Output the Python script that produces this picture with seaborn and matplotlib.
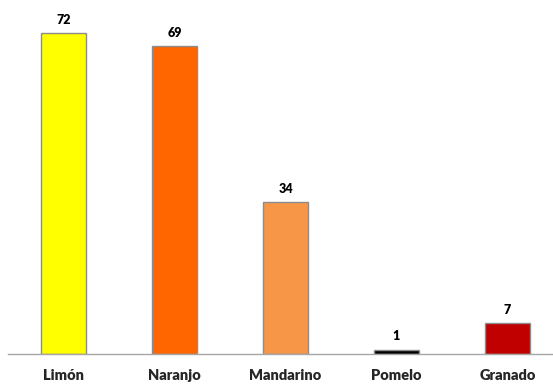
import matplotlib
matplotlib.use("Agg")
import matplotlib.pyplot as plt
import seaborn as sns
import pandas as pd

frutas = ["Limón", "Naranjo", "Mandarino", "Pomelo", "Granado"]
cantidad = [72, 69, 34, 1, 7]
colores = ["#FFFF00", "#FF6600", "#F79646", "#000000", "#C00000"]

sns.set_style("white")
plt.rcParams["font.family"] = ["Lato", "DejaVu Sans"]

df = pd.DataFrame({"fruta": frutas, "cantidad": cantidad})

fig = plt.figure(figsize=(5.53, 3.85), dpi=100)
ax = fig.add_axes([8 / 553, 31 / 385, 545 / 553, 354 / 385])

sns.barplot(data=df, x="fruta", y="cantidad", hue="fruta", palette=colores,
            saturation=1, width=0.41, edgecolor="#8C8C8C", linewidth=1,
            legend=False, ax=ax)

for i, v in enumerate(cantidad):
    ax.text(i, v + 1.6, str(v), ha="center", va="bottom",
            fontsize=9, fontweight="heavy", color="black")

ax.set_xlim(-0.5, 4.41)
ax.set_ylim(0, 72 * 354 / 321)
ax.set_xlabel("")
ax.set_ylabel("")
ax.set_yticks([])
ax.tick_params(axis="x", length=0, pad=11)
for lbl in ax.get_xticklabels():
    lbl.set_fontweight("heavy")
    lbl.set_fontsize(10.5)
for s in ["top", "right", "left"]:
    ax.spines[s].set_visible(False)
ax.spines["bottom"].set_color("#A6A6A6")
ax.spines["bottom"].set_linewidth(1)

fig.savefig("out.png", dpi=100)
